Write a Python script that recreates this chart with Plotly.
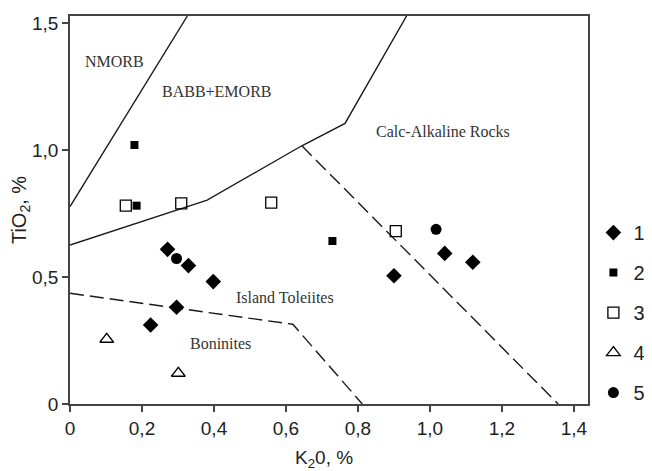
import plotly.graph_objects as go

# Data series (K2O %, TiO2 %)
s1_x = [0.271, 0.329, 0.398, 0.296, 0.224, 0.900, 1.041, 1.119]
s1_y = [0.609, 0.545, 0.482, 0.381, 0.311, 0.505, 0.593, 0.558]
s2_x = [0.179, 0.185, 0.729]
s2_y = [1.020, 0.781, 0.642]
s3_x = [0.155, 0.309, 0.559, 0.905]
s3_y = [0.781, 0.790, 0.793, 0.681]
s4_x = [0.102, 0.301]
s4_y = [0.255, 0.121]
s5_x = [0.296, 1.017]
s5_y = [0.573, 0.688]

# Field boundaries
nmorb_x = [0.0, 0.326]
nmorb_y = [0.777, 1.528]
babb_x = [0.0, 0.381, 0.644, 0.764, 0.935]
babb_y = [0.626, 0.803, 1.017, 1.105, 1.528]
calc_x = [0.644, 1.356]
calc_y = [1.017, 0.0]
bon_x = [0.0, 0.619, 0.812]
bon_y = [0.436, 0.314, 0.0]

field_labels = ["NMORB", "BABB+EMORB", "Calc-Alkaline Rocks", "Island Toleiites", "Boninites"]
field_x = [0.123, 0.407, 1.037, 0.597, 0.419]
field_y = [1.350, 1.230, 1.072, 0.421, 0.239]

x_ticks = [0, 0.2, 0.4, 0.6, 0.8, 1.0, 1.2, 1.4]
x_ticktext = ["0", "0,2", "0,4", "0,6", "0,8", "1,0", "1,2", "1,4"]
y_ticks = [0, 0.5, 1.0, 1.5]
y_ticktext = ["0", "0,5", "1,0", "1,5"]

series_names = ["1", "2", "3", "4", "5"]

fig = go.Figure()
LC = "#1a1a1a"
for xs, ys, dash in [(nmorb_x, nmorb_y, "solid"), (babb_x, babb_y, "solid"),
                     (calc_x, calc_y, "14px,6px"), (bon_x, bon_y, "14px,6px")]:
    fig.add_trace(go.Scatter(x=xs, y=ys, mode="lines", showlegend=False,
                             line=dict(color=LC, width=1.4, dash=dash), hoverinfo="skip"))

marker_specs = [
    (s1_x, s1_y, dict(symbol="diamond", size=12, color="black")),
    (s2_x, s2_y, dict(symbol="square", size=8, color="black")),
    (s3_x, s3_y, dict(symbol="square-open", size=11, color="black", line=dict(width=1.3))),
    (s4_x, s4_y, dict(symbol="triangle-up-open", size=12, color="black", line=dict(width=1.3))),
    (s5_x, s5_y, dict(symbol="circle", size=11, color="black")),
]
for name, (xs, ys, mk) in zip(series_names, marker_specs):
    fig.add_trace(go.Scatter(x=xs, y=ys, mode="markers", name=name, marker=mk,
                             legendgroup=name))

for t, x, y in zip(field_labels, field_x, field_y):
    fig.add_annotation(x=x, y=y, text=t, showarrow=False,
                       font=dict(family="Liberation Serif", size=16, color="#333"))

# x-axis title as a paper-positioned annotation
fig.add_annotation(xref="paper", yref="paper", x=0.491, y=-0.142, text="K<sub>2</sub>0, %",
                   showarrow=False, xanchor="center", yanchor="middle",
                   font=dict(family="Liberation Sans", size=19, color="#222"))

axis_common = dict(showgrid=False, zeroline=False, showline=True, linecolor="#444",
                   linewidth=1.5, mirror=True, ticks="outside", ticklen=6,
                   tickcolor="#444", tickwidth=1.5, automargin=False,
                   tickfont=dict(family="Liberation Sans", size=19, color="#222"))

fig.update_xaxes(range=[0, 1.439], tickvals=x_ticks, ticktext=x_ticktext, **axis_common)
fig.update_yaxes(range=[0, 1.528], tickvals=y_ticks, ticktext=y_ticktext,
                 title=dict(text="TiO<sub>2</sub>, %", standoff=6,
                            font=dict(family="Liberation Sans", size=20, color="#222")),
                 **axis_common)

fig.update_layout(
    width=644, height=463,
    margin=dict(l=62, r=64, t=8, b=67),
    plot_bgcolor="white", paper_bgcolor="white",
    legend=dict(xref="container", yref="container", x=0.909, y=0.557,
                xanchor="left", yanchor="top", tracegroupgap=11,
                font=dict(family="Liberation Sans", size=20, color="#222"),
                bgcolor="rgba(0,0,0,0)", itemwidth=30),
)

fig.write_html("out.html")
